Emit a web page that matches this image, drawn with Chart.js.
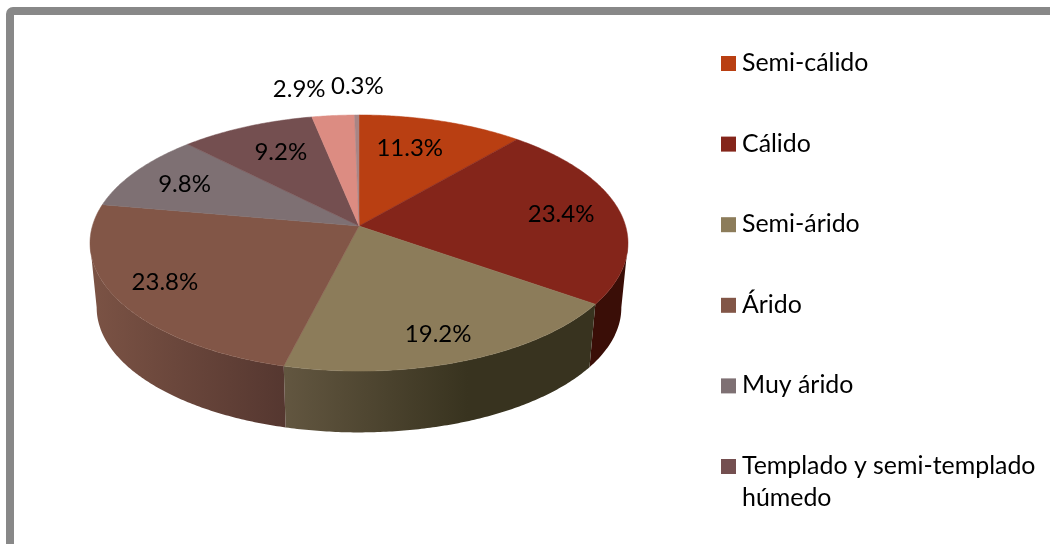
<!DOCTYPE html>
<html>
<head>
<meta charset="utf-8">
<title>Climas</title>
<script src="https://cdn.jsdelivr.net/npm/chart.js@4/dist/chart.umd.js"></script>
<style>
    html, body { margin: 0; padding: 0; background: #fff; overflow: hidden; }
    canvas { display: block; }
</style>
</head>
<body>
<canvas id="chart" width="1050" height="544"></canvas>
<script>
// the last two entries fall below the crop of the legend, their names cannot be read
const categories = ['Semi-cálido', 'Cálido', 'Semi-árido', 'Árido', 'Muy árido', 'Templado y semi-templado húmedo', '', ''];
const percentages = [11.3, 23.4, 19.2, 23.8, 9.8, 9.2, 2.9, 0.3];
const sliceColors = ['#b93f12', '#84251a', '#8c7c5a', '#825647', '#7e7073', '#744f50', '#dc8c82', '#a98585'];
const wallColorsLeft = [null, '#3a0e07', '#625640', '#7a5244', null, null, null, null];
const wallColorsRight = [null, '#3a0e07', '#38331f', '#553730', null, null, null, null];
// share of each wall, from the right, that stays in the dark colour
const wallFlat = [0, 0, 0.4, 0, 0, 0, 0, 0];

// perspective of the tilted disc, fitted on the picture
const VIEW = { cx: 359, apexY: 226, A: 266.6, B: 125.8, k: 0.133 };
const FLOOR = { cx: 359, apexY: 291, A: 260, B: 122.6, k: 0.133 };

// pixel shift of every percentage from its default spot inside the slice
const labelShift = [[-9, -2], [19, -1], [8, 18], [-29, 6], [-16, -3], [3, -2], [-41, -57], [0, -59]];

function project(view, theta, r) {
    const x = Math.sin(theta) * r;
    const y = Math.cos(theta) * r;
    const w = 1 + view.k * y;
    return { x: view.cx + view.A * x / w, y: view.apexY - view.B * y / w };
}

function tracePoints(ctx, view, from, to) {
    const steps = Math.max(2, Math.ceil(Math.abs(to - from) / 0.01));
    for (let i = 0; i <= steps; i++) {
        const p = project(view, from + (to - from) * i / steps, 1);
        ctx.lineTo(p.x, p.y);
    }
}

const framePlugin = {
    id: 'frame',
    beforeDraw(chart) {
        const ctx = chart.ctx;
        ctx.save();
        ctx.fillStyle = '#fff';
        ctx.fillRect(0, 0, chart.width, chart.height);
        ctx.strokeStyle = '#888888';
        ctx.lineWidth = 8;
        ctx.beginPath();
        ctx.roundRect(10, 11, 1200, 700, 3);
        ctx.stroke();
        ctx.restore();
    }
};

const disc3dPlugin = {
    id: 'disc3d',
    // the arcs stay in the library, only their drawing is replaced
    beforeDatasetDraw(chart, args) {
        const ctx = chart.ctx;
        const arcs = chart.getDatasetMeta(args.index).data;
        const angles = arcs.map(arc => {
            const props = arc.getProps(['startAngle', 'endAngle'], true);
            return [props.startAngle + Math.PI / 2, props.endAngle + Math.PI / 2];
        });

        // side wall, between the two points where the outline of the disc turns back
        const tangent = Math.acos(-VIEW.k);
        angles.forEach(([start, end], i) => {
            const from = Math.max(start, tangent);
            const to = Math.min(end, Math.PI * 2 - tangent);
            if (to <= from || !wallColorsLeft[i]) return;
            const a = project(FLOOR, from, 1);
            const b = project(FLOOR, to, 1);
            const gradient = ctx.createLinearGradient(Math.max(a.x, b.x), 0, Math.min(a.x, b.x), 0);
            gradient.addColorStop(0, wallColorsRight[i]);
            gradient.addColorStop(wallFlat[i], wallColorsRight[i]);
            gradient.addColorStop(1, wallColorsLeft[i]);
            ctx.beginPath();
            tracePoints(ctx, VIEW, from, to);
            tracePoints(ctx, FLOOR, to, from);
            ctx.closePath();
            ctx.fillStyle = gradient;
            ctx.fill();
        });

        // top face
        angles.forEach(([start, end], i) => {
            ctx.beginPath();
            ctx.moveTo(VIEW.cx, VIEW.apexY);
            tracePoints(ctx, VIEW, start, end);
            ctx.closePath();
            ctx.fillStyle = sliceColors[i];
            ctx.strokeStyle = sliceColors[i];
            ctx.lineWidth = 0.5;
            ctx.fill();
            ctx.stroke();
        });

        // percentages
        ctx.fillStyle = '#000';
        ctx.font = '24px Lato';
        ctx.textAlign = 'center';
        ctx.textBaseline = 'middle';
        angles.forEach(([start, end], i) => {
            const p = project(VIEW, (start + end) / 2, 0.7);
            ctx.fillText(percentages[i].toFixed(1) + '%', p.x + labelShift[i][0], p.y + labelShift[i][1]);
        });
        return false;
    }
};

const legendPlugin = {
    id: 'sideLegend',
    afterDraw(chart) {
        const ctx = chart.ctx;
        ctx.save();
        ctx.font = '24.9px Lato';
        ctx.textAlign = 'left';
        ctx.textBaseline = 'middle';
        let y = 63;
        categories.forEach((name, i) => {
            if (!name) return;
            ctx.fillStyle = sliceColors[i];
            ctx.fillRect(721, y - 7, 15, 15);
            ctx.fillStyle = '#000';
            const words = name.split(' ');
            let line = '';
            words.forEach(word => {
                const next = line ? line + ' ' + word : word;
                if (ctx.measureText(next).width > 300) {
                    ctx.fillText(line, 742, y);
                    y += 32;
                    line = word;
                } else {
                    line = next;
                }
            });
            ctx.fillText(line, 742, y);
            y += 80.6;
        });
        ctx.restore();
    }
};

new Chart(document.getElementById('chart').getContext('2d'), {
    type: 'pie',
    data: {
        labels: categories,
        datasets: [{ data: percentages, backgroundColor: sliceColors, borderWidth: 0 }]
    },
    options: {
        responsive: false,
        animation: false,
        plugins: { legend: { display: false }, tooltip: { enabled: false } }
    },
    plugins: [framePlugin, disc3dPlugin, legendPlugin]
});
</script>
</body>
</html>
